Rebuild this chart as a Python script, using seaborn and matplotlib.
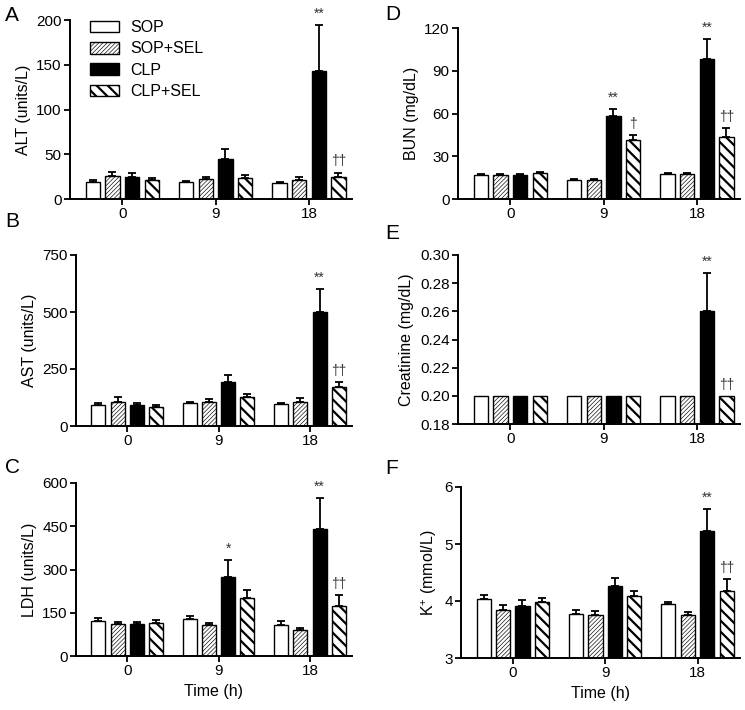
import numpy as np
import pandas as pd
import matplotlib
matplotlib.use("Agg")
import matplotlib.pyplot as plt
import seaborn as sns

# categorias y grupos
times = ["0", "9", "18"]
groups = ["SOP", "SOP+SEL", "CLP", "CLP+SEL"]

# valores por grupo (filas) y tiempo (columnas): media y SEM
alt_mean = [[19, 19, 17.5], [26, 22, 21.5], [25, 45, 143], [21, 24, 24.5]]
alt_sem = [[2, 1.5, 1.2], [4, 3, 2.6], [4, 11, 51], [2.5, 2.5, 5]]

ast_mean = [[92, 99, 96], [107, 107, 104], [92, 194, 501], [82, 129, 173]]
ast_sem = [[7, 6, 6], [22, 11, 17], [10, 30, 100], [10, 11, 21]]

ldh_mean = [[123, 127, 108], [111, 108, 90], [111, 273, 440], [113, 200, 174]]
ldh_sem = [[10, 13, 12], [8, 8, 8], [8, 61, 108], [12, 30, 36]]

bun_mean = [[16.8, 13.3, 17.5], [17.0, 13.3, 17.8], [16.6, 58.5, 98.5], [18.5, 41.5, 43.5]]
bun_sem = [[0.8, 0.7, 0.6], [0.8, 0.7, 0.6], [0.6, 5, 13.5], [0.7, 3.5, 6]]

crea_mean = [[0.20, 0.20, 0.20], [0.20, 0.20, 0.20], [0.20, 0.20, 0.26], [0.20, 0.20, 0.20]]
crea_sem = [[0, 0, 0], [0, 0, 0], [0, 0, 0.027], [0, 0, 0]]

k_mean = [[4.03, 3.78, 3.94], [3.84, 3.75, 3.76], [3.92, 4.27, 5.23], [3.99, 4.09, 4.17]]
k_sem = [[0.07, 0.06, 0.05], [0.09, 0.07, 0.05], [0.09, 0.13, 0.39], [0.06, 0.08, 0.21]]

# marcas de significancia por grupo y tiempo
sig_alt = [["", "", ""], ["", "", ""], ["", "", "**"], ["", "", "††"]]
sig_ast = [["", "", ""], ["", "", ""], ["", "", "**"], ["", "", "††"]]
sig_ldh = [["", "", ""], ["", "", ""], ["", "*", "**"], ["", "", "††"]]
sig_bun = [["", "", ""], ["", "", ""], ["", "**", "**"], ["", "†", "††"]]
sig_crea = [["", "", ""], ["", "", ""], ["", "", "**"], ["", "", "††"]]
sig_k = [["", "", ""], ["", "", ""], ["", "", "**"], ["", "", "††"]]

colores = ["white", "white", "black", "white"]
tramas = ["", "////////", "", "\\\\\\"]
grosor_trama = [0.5, 0.45, 0.5, 1.6]

sns.set_style("ticks")
plt.rcParams["font.family"] = ["Liberation Sans", "DejaVu Sans"]
plt.rcParams["mathtext.default"] = "regular"
plt.rcParams["hatch.linewidth"] = 0.5
for k in ["text.color", "axes.labelcolor", "xtick.color", "ytick.color", "axes.edgecolor"]:
    plt.rcParams[k] = "black"


def poner_trama(p, gi):
    p.set_hatch(tramas[gi])
    if hasattr(p, "set_hatch_linewidth"):
        p.set_hatch_linewidth(grosor_trama[gi])


def panel(ax, means, sems, sig, ylabel, ylim, yticks, fmt, xlabel=None):
    rows = []
    for gi, g in enumerate(groups):
        for ti, t in enumerate(times):
            rows.append({"time": t, "group": g, "value": means[gi][ti]})
    df = pd.DataFrame(rows)

    sns.barplot(data=df, x="time", y="value", hue="group", order=times,
                hue_order=groups, palette=colores, saturation=1,
                width=0.84, gap=0.27, errorbar=None, edgecolor="black",
                linewidth=1.0, legend=False, ax=ax)

    # ordenar barras por posicion -> (tiempo, grupo)
    bars = sorted(ax.patches, key=lambda p: p.get_x())
    bars = np.array(bars, dtype=object).reshape(len(times), len(groups))

    for gi in range(len(groups)):
        xs = []
        for ti in range(len(times)):
            b = bars[ti, gi]
            poner_trama(b, gi)
            xs.append(b.get_x() + b.get_width() / 2)
        m = np.array(means[gi])
        s = np.array(sems[gi])
        ok = s > 0
        ax.errorbar(np.array(xs)[ok], m[ok], yerr=[np.zeros(ok.sum()), s[ok]],
                    fmt="none", ecolor="black", elinewidth=1.3, capsize=3,
                    capthick=1.3, zorder=1)
        for ti in range(len(times)):
            if sig[gi][ti]:
                ax.annotate(sig[gi][ti], (xs[ti], means[gi][ti] + sems[gi][ti]),
                            xytext=(0, 3), textcoords="offset points",
                            ha="center", va="bottom", fontsize=10, color="#333333")

    ax.set_xlim(-0.56, 2.46)
    ax.set_ylim(*ylim)
    ax.set_yticks(yticks)
    ax.set_yticklabels([fmt.format(v) for v in yticks])
    ax.set_ylabel(ylabel, fontsize=11.5)
    ax.set_xlabel(xlabel if xlabel else "", fontsize=11.5)
    sns.despine(ax=ax)
    for sp in ["left", "bottom"]:
        ax.spines[sp].set_linewidth(1.4)
    ax.tick_params(direction="out", length=4, width=1.3, labelsize=11, pad=2)
    return bars


fig = plt.figure(figsize=(7.45, 7.10), dpi=100)
W, H = 745.0, 710.0


def rect(left, right, top, bottom):
    return [left / W, 1 - bottom / H, (right - left) / W, (bottom - top) / H]


axA = fig.add_axes(rect(70, 352, 20, 199))
axB = fig.add_axes(rect(76, 352, 255, 426))
axC = fig.add_axes(rect(76, 352, 483, 656))
axD = fig.add_axes(rect(458, 740, 28, 199))
axE = fig.add_axes(rect(458, 740, 255, 424))
axF = fig.add_axes(rect(461, 740, 487, 658))

barsA = panel(axA, alt_mean, alt_sem, sig_alt, "ALT (units/L)", (0, 200), [0, 50, 100, 150, 200], "{:g}")
panel(axB, ast_mean, ast_sem, sig_ast, "AST (units/L)", (0, 750), [0, 250, 500, 750], "{:g}")
panel(axC, ldh_mean, ldh_sem, sig_ldh, "LDH (units/L)", (0, 600), [0, 150, 300, 450, 600], "{:g}", "Time (h)")
panel(axD, bun_mean, bun_sem, sig_bun, "BUN (mg/dL)", (0, 120), [0, 30, 60, 90, 120], "{:g}")
panel(axE, crea_mean, crea_sem, sig_crea, "Creatinine (mg/dL)", (0.18, 0.30),
      [0.18, 0.20, 0.22, 0.24, 0.26, 0.28, 0.30], "{:.2f}")
panel(axF, k_mean, k_sem, sig_k, r"K$^{+}$ (mmol/L)", (3, 6), [3, 4, 5, 6], "{:g}", "Time (h)")

# leyenda en el panel A
leg = axA.legend(handles=list(barsA[0]), labels=groups, loc="upper left",
                 bbox_to_anchor=(90 / W, 1 - 20 / H), bbox_transform=fig.transFigure,
                 frameon=False, fontsize=11.5, handlelength=1.8, handleheight=0.75,
                 handletextpad=0.7, labelspacing=0.4, borderpad=0, borderaxespad=0)
for gi, h in enumerate(leg.legend_handles):
    poner_trama(h, gi)

# letras de los paneles
for letra, x, y in [("A", 5, 6), ("B", 5, 212), ("C", 5, 458),
                    ("D", 385, 5), ("E", 385, 224), ("F", 385, 459)]:
    fig.text(x / W, 1 - y / H, letra, fontsize=15, ha="left", va="top")

fig.savefig("out.png", dpi=100)
